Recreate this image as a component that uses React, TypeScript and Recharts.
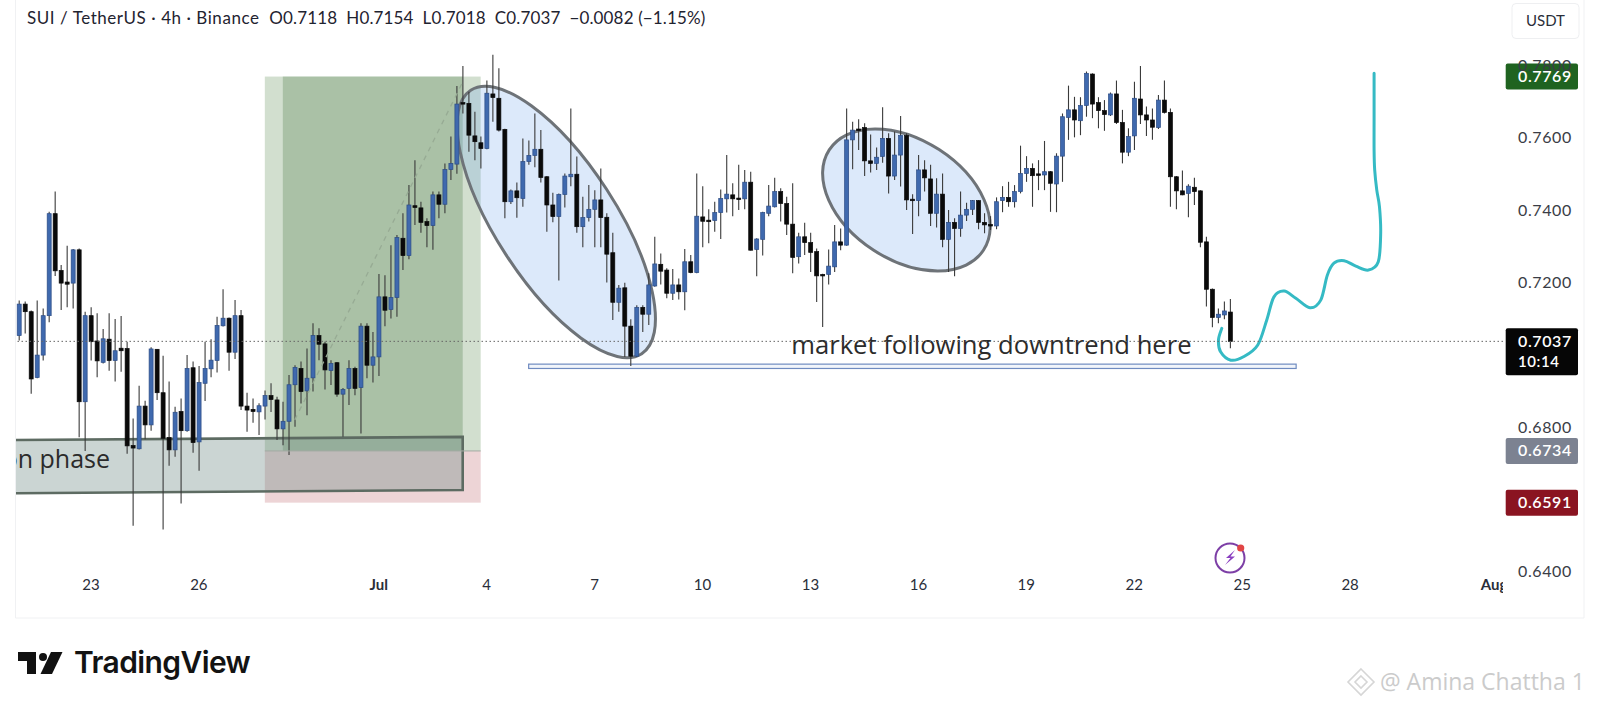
import React from "react";
import { ComposedChart, Bar, XAxis, YAxis, ReferenceArea, ReferenceLine } from "recharts";

// 4h candles
const opens = [
  .7053,.7140,.7119,.6937,.6999,.7108,.7390,.7233,.7201,.7198,.7290,.6870,.7108,.7038,.6979,.7043,.6984,.7018,.7017,.6749,
  .6740,.6858,.6806,.7015,.6895,.6771,.6737,.6843,.6790,.6964,.6759,.6921,.6961,.6984,.7080,.7101,.7007,.7108,.6858,.6849,
  .6842,.6858,.6887,.6875,.6795,.6816,.6917,.6962,.6900,.6936,.7053,.7030,.6956,.6978,.6891,.6907,.6962,.6909,.7079,.6971,
  .6994,.7160,.7125,.7158,.7322,.7274,.7412,.7406,.7368,.7357,.7442,.7416,.7512,.7527,.7697,.7695,.7605,.7586,.7570,.7721,
  .7709,.7623,.7423,.7453,.7432,.7534,.7551,.7568,.7492,.7414,.7382,.7443,.7492,.7499,.7354,.7379,.7402,.7428,.7380,.7282,
  .7145,.7185,.7079,.6996,.7131,.7112,.7190,.7250,.7234,.7170,.7193,.7174,.7257,.7227,.7381,.7372,.7371,.7393,.7431,.7442,
  .7433,.7431,.7477,.7291,.7319,.7391,.7409,.7451,.7418,.7361,.7271,.7326,.7310,.7285,.7222,.7222,.7243,.7312,.7303,.7594,
  .7624,.7628,.7536,.7529,.7548,.7598,.7494,.7552,.7606,.7430,.7426,.7511,.7486,.7391,.7444,.7319,.7366,.7349,.7386,.7402,
  .7426,.7366,.7360,.7356,.7426,.7435,.7423,.7451,.7501,.7515,.7500,.7497,.7506,.7472,.7549,.7656,.7677,.7647,.7689,.7776,
  .7697,.7675,.7663,.7721,.7642,.7560,.7605,.7707,.7663,.7649,.7628,.7704,.7670,.7492,.7453,.7446,.7463,.7453,.7312,.7181,
  .7103,.7110,.7118,
];
const highs = [
  .7150,.7147,.7122,.7150,.7128,.7395,.7451,.7248,.7301,.7292,.7294,.7119,.7131,.7115,.7071,.7115,.7099,.7107,.7036,.6824,
  .6914,.6873,.7021,.7016,.6997,.6926,.6856,.6879,.6999,.6981,.6969,.7036,.7043,.7105,.7181,.7103,.7151,.7124,.6895,.6879,
  .6866,.6901,.6921,.6884,.6870,.6944,.6971,.6981,.7017,.7087,.7073,.7036,.6985,.6980,.6908,.6985,.6967,.7087,.7087,.7063,
  .7223,.7220,.7303,.7331,.7391,.7469,.7538,.7423,.7377,.7451,.7451,.7529,.7603,.7743,.7798,.7727,.7672,.7603,.7758,.7829,
  .7792,.7625,.7457,.7476,.7598,.7592,.7667,.7621,.7494,.7448,.7446,.7501,.7681,.7548,.7437,.7469,.7455,.7515,.7391,.7337,
  .7193,.7199,.7098,.7137,.7137,.7225,.7326,.7280,.7239,.7237,.7211,.7292,.7276,.7501,.7466,.7402,.7423,.7457,.7552,.7474,
  .7525,.7511,.7506,.7322,.7395,.7469,.7489,.7460,.7437,.7474,.7337,.7365,.7337,.7294,.7224,.7291,.7359,.7349,.7681,.7644,
  .7651,.7640,.7609,.7573,.7684,.7612,.7617,.7660,.7612,.7444,.7552,.7538,.7525,.7488,.7501,.7400,.7377,.7451,.7420,.7428,
  .7428,.7391,.7383,.7435,.7466,.7478,.7469,.7578,.7549,.7529,.7538,.7591,.7508,.7557,.7667,.7744,.7713,.7712,.7783,.7778,
  .7712,.7704,.7725,.7758,.7677,.7626,.7755,.7798,.7686,.7681,.7718,.7758,.7681,.7494,.7509,.7471,.7489,.7455,.7326,.7183,
  .7128,.7147,.7154,
];
const lows = [
  .7039,.7059,.6892,.6935,.6984,.7090,.7218,.7124,.7131,.7128,.6772,.6734,.6984,.6938,.6976,.6956,.6926,.6953,.6726,.6527,
  .6738,.6766,.6790,.6875,.6517,.6693,.6718,.6589,.6787,.6729,.6679,.6872,.6938,.6951,.7078,.6956,.6988,.6847,.6787,.6812,
  .6778,.6821,.6842,.6764,.6750,.6723,.6801,.6865,.6833,.6898,.6985,.6904,.6916,.6884,.6773,.6861,.6888,.6782,.6935,.6923,
  .6941,.7079,.7100,.7105,.7234,.7264,.7359,.7337,.7297,.7290,.7377,.7391,.7483,.7500,.7667,.7561,.7538,.7515,.7568,.7644,
  .7617,.7377,.7417,.7379,.7409,.7525,.7518,.7476,.7340,.7366,.7205,.7407,.7466,.7337,.7297,.7368,.7297,.7297,.7200,.7096,
  .7119,.6994,.6969,.6994,.7063,.7082,.7188,.7194,.7156,.7151,.7153,.7123,.7225,.7225,.7297,.7308,.7340,.7320,.7393,.7383,
  .7400,.7402,.7288,.7217,.7274,.7383,.7407,.7368,.7331,.7225,.7252,.7276,.7229,.7146,.7077,.7194,.7229,.7289,.7301,.7513,
  .7566,.7494,.7504,.7511,.7531,.7446,.7483,.7465,.7400,.7334,.7383,.7451,.7356,.7352,.7297,.7229,.7217,.7326,.7370,.7386,
  .7347,.7336,.7345,.7347,.7394,.7409,.7407,.7446,.7478,.7409,.7455,.7455,.7395,.7394,.7478,.7594,.7601,.7607,.7658,.7654,
  .7626,.7619,.7660,.7638,.7529,.7549,.7566,.7638,.7605,.7594,.7624,.7667,.7409,.7402,.7441,.7380,.7414,.7297,.7133,.7076,
  .7087,.7098,.7018,
];
const closes = [
  .7140,.7119,.6933,.6999,.7108,.7390,.7232,.7198,.7195,.7290,.6870,.7108,.7036,.6983,.7044,.6984,.7011,.7011,.6748,.6742,
  .6858,.6806,.7016,.6895,.6769,.6737,.6841,.6790,.6962,.6757,.6923,.6962,.6985,.7081,.7101,.7007,.7108,.6858,.6847,.6843,
  .6859,.6887,.6876,.6795,.6816,.6917,.6965,.6898,.6935,.7053,.7029,.6958,.6976,.6891,.6904,.6962,.6907,.7079,.6971,.6994,
  .7160,.7123,.7158,.7324,.7274,.7414,.7407,.7366,.7357,.7442,.7416,.7512,.7529,.7693,.7693,.7607,.7589,.7570,.7723,.7711,
  .7621,.7423,.7453,.7434,.7534,.7551,.7568,.7490,.7414,.7382,.7443,.7494,.7499,.7354,.7379,.7402,.7428,.7379,.7278,.7145,
  .7184,.7079,.6996,.7131,.7112,.7193,.7251,.7231,.7170,.7193,.7174,.7257,.7227,.7383,.7369,.7368,.7393,.7432,.7444,.7431,
  .7430,.7477,.7289,.7320,.7393,.7411,.7451,.7418,.7361,.7269,.7326,.7310,.7283,.7218,.7218,.7245,.7312,.7303,.7594,.7621,
  .7621,.7536,.7529,.7546,.7598,.7494,.7552,.7606,.7428,.7427,.7511,.7489,.7391,.7444,.7319,.7366,.7349,.7386,.7402,.7426,
  .7366,.7359,.7358,.7423,.7435,.7423,.7451,.7501,.7515,.7495,.7498,.7506,.7474,.7549,.7658,.7677,.7649,.7689,.7778,.7693,
  .7675,.7664,.7721,.7642,.7560,.7603,.7709,.7663,.7649,.7629,.7704,.7670,.7492,.7453,.7442,.7466,.7451,.7311,.7181,.7103,
  .7112,.7121,.7037,
];

const SLOTS = 248; // candles plus the empty space on the right
const rows = Array.from({ length: SLOTS }, (_, i) => ({
  i,
  open: opens[i],
  close: closes[i],
  range: highs[i] === undefined ? undefined : [lows[i], highs[i]],
}));

const tickSlots = [12, 30, 60, 78, 96, 114, 132, 150, 168, 186, 204, 222, 246];
const tickLabels = ["23", "26", "Jul", "4", "7", "10", "13", "16", "19", "22", "25", "28", "Aug"];
const priceTicks = [0.64, 0.68, 0.72, 0.74, 0.76, 0.78];

// position tool and last price
const ENTRY = 0.6734;
const TARGET = 0.7769;
const STOP = 0.6591;
const LAST = 0.7037;

// hand drawn curve, [slot, price]
const curve = [
  [200.6, .7073], [200.05, .7041], [200.4, .7008], [202.1, .6985], [204.3, .6995], [206.6, .7027], [208.1, .7096],
  [209.3, .7160], [211, .7176], [212.95, .7156], [215.3, .7130], [217.1, .7151], [218.2, .7220], [219.3, .7253],
  [221, .7260], [222.95, .7245], [225.05, .7234], [226.7, .7257], [227.1, .7336], [226.9, .7409], [226.45, .7455],
  [226.1, .7511], [226, .7566], [226, .7650], [226, .7778],
];
// drawn ellipses: slot, price of the centre, then radii in px and tilt
const ellipses = [
  { slot: 89.6, price: 0.7367, rx: 157, ry: 60, tilt: 57 },
  { slot: 148, price: 0.7428, rx: 92, ry: 60, tilt: 33 },
];
// accumulation box corners, [slot, price]
const phaseBox = [[-1, .6764], [74, .6773], [74, .6626], [-1, .6617]];

const FONT = "Lato, 'Open Sans', sans-serif";

function Candle(props: any) {
  const { x, y, width, height, payload } = props;
  if (!payload.range || !isFinite(y) || !isFinite(height)) return null;
  const [low, high] = payload.range;
  const k = height / (high - low);
  const up = payload.close >= payload.open;
  const top = y + (high - Math.max(payload.open, payload.close)) * k;
  const h = Math.max(Math.abs(payload.open - payload.close) * k, 1.5);
  const cx = x + width / 2;
  return (
    <g>
      <line x1={cx} x2={cx} y1={y} y2={y + height} stroke="#3a3a3a" strokeWidth={1.1} />
      <rect
        x={x}
        y={top}
        width={width}
        height={h}
        fill={up ? "#3f69ae" : "#0a0a0a"}
        stroke={up ? "#2c4c85" : "#0a0a0a"}
        strokeWidth={0.7}
      />
    </g>
  );
}

// band scale gives the outer edges of the first and last slot; drawings run centre to centre
function CenterRect(props: any) {
  const { x, y, width, height, fill, fillOpacity, stroke, strokeWidth } = props;
  const half = width / (props.slots * 2);
  return (
    <rect
      x={x + half}
      y={y}
      width={width - half * 2}
      height={height}
      fill={fill}
      fillOpacity={fillOpacity}
      stroke={stroke}
      strokeWidth={strokeWidth}
    />
  );
}

function Annotations(props: any) {
  // the area spans slots 0..200 and prices .64...78, so it gives the scales
  const { x, y, width, height } = props;
  const px = (s: number) => x + ((s + 0.5) / 201) * width;
  const py = (p: number) => y + ((0.78 - p) / 0.14) * height;
  const pts = curve.map(([s, p]) => [px(s), py(p)]);
  let d = `M${pts[0][0]},${pts[0][1]}`;
  for (let i = 0; i < pts.length - 1; i++) {
    const a = pts[Math.max(i - 1, 0)], b = pts[i], c = pts[i + 1], e = pts[Math.min(i + 2, pts.length - 1)];
    d += `C${b[0] + (c[0] - a[0]) / 6},${b[1] + (c[1] - a[1]) / 6} ${c[0] - (e[0] - b[0]) / 6},${c[1] - (e[1] - b[1]) / 6} ${c[0]},${c[1]}`;
  }
  const box = phaseBox.map(([s, p]) => `${px(s)},${py(p)}`).join(" ");
  return (
    <g>
      <clipPath id="paneClip">
        <rect x={16} y={0} width={1487} height={577} />
      </clipPath>
      <g clipPath="url(#paneClip)">
        <polygon points={box} fill="rgba(114,141,136,0.37)" stroke="#5d6b62" strokeWidth={2.6} />
        <text x={110} y={py(0.6688)} textAnchor="end" fontFamily="'Open Sans', sans-serif" fontSize={25} fill="#2b2b2b">
          accumulation phase
        </text>
      </g>
      {ellipses.map((e) => (
        <ellipse
          key={e.slot}
          cx={px(e.slot)}
          cy={py(e.price)}
          rx={e.rx}
          ry={e.ry}
          transform={`rotate(${e.tilt} ${px(e.slot)} ${py(e.price)})`}
          fill="rgba(120,170,235,0.26)"
          stroke="#6e7378"
          strokeWidth={3}
        />
      ))}
      <text x={px(128.8)} y={py(0.7002)} fontFamily="'Open Sans', sans-serif" fontSize={25.6} fill="#2b2b2b">
        market following downtrend here
      </text>
      <path d={d} fill="none" stroke="#35bac4" strokeWidth={3} strokeLinecap="round" />
    </g>
  );
}

function PriceTag({ x1, x2, y1, fill, sub, label }: any) {
  const right = Math.max(x1, x2);
  return (
    <g>
      <rect x={right + 2.7} y={y1 - 13} width={72.3} height={sub ? 47 : 26} rx={2} fill={fill} />
      <text x={right + 15} y={y1 + 5.5} fontFamily={FONT} fontSize={16} fontWeight={600} fill="#fff" letterSpacing={0.6}>
        {label}
      </text>
      {sub && (
        <text x={right + 15} y={y1 + 26} fontFamily={FONT} fontSize={15} fontWeight={600} fill="#fff" letterSpacing={0.6}>
          {sub}
        </text>
      )}
    </g>
  );
}

function XTick({ x, y, payload }: any) {
  const n = tickSlots.indexOf(payload.value);
  const month = tickLabels[n] === "Jul" || tickLabels[n] === "Aug";
  return (
    <g>
      <clipPath id={`xc${n}`}>
        <rect x={0} y={570} width={1503} height={50} />
      </clipPath>
      <text
        x={x}
        y={y}
        dy={5}
        textAnchor="middle"
        clipPath={`url(#xc${n})`}
        fontFamily={FONT}
        fontSize={15}
        fontWeight={month ? 700 : 400}
        fill="#2a2e39"
      >
        {tickLabels[n]}
      </text>
    </g>
  );
}

function YTick({ y, payload }: any) {
  return (
    <g>
      <clipPath id={`yc${payload.value}`}>
        <rect x={1503} y={0} width={97} height={577} />
      </clipPath>
      <text
        x={1518}
        y={y}
        dy={5.5}
        clipPath={`url(#yc${payload.value})`}
        fontFamily={FONT}
        fontSize={16}
        letterSpacing={0.6}
        fill="#3a3d46"
      >
        {payload.value.toFixed(4)}
      </text>
    </g>
  );
}

function Chrome() {
  return (
    <svg width={1600} height={707} style={{ position: "absolute", left: 0, top: 0, pointerEvents: "none" }}>
      <path d="M15.5 0V618H1584V0" fill="none" stroke="#f0f1f3" />
      <text x={27} y={24} fontFamily={FONT} fontSize={17} fill="#1f2330" letterSpacing={0.55} style={{ whiteSpace: "pre" }}>
        {"SUI / TetherUS · 4h · Binance  "}
        <tspan letterSpacing={0.15}>{"O0.7118  H0.7154  L0.7018  C0.7037  −0.0082 (−1.15%)"}</tspan>
      </text>
      <rect x={1512} y={3.5} width={67} height={35} rx={4} fill="#fff" stroke="#eeeff1" />
      <text x={1545.5} y={26} textAnchor="middle" fontFamily={FONT} fontSize={15} fill="#2a2e39">
        USDT
      </text>
      {/* bolt icon */}
      <circle cx={1230} cy={558} r={14.5} fill="none" stroke="#7d3fa6" strokeWidth={2} />
      <path d="M1235 550l-9 8h4.5l-5.5 7 10-8.5h-4.5z" fill="#8a3fc0" />
      <circle cx={1240.7} cy={548} r={3.6} fill="#e14545" />
      {/* TradingView logo */}
      <path d="M18 652H36V674H27V661H18Z" fill="#111" />
      <circle cx={43} cy={657} r={4} fill="#111" />
      <path d="M51 652H62.5L52 674H40.5Z" fill="#111" />
      <text x={74} y={673} fontFamily="Inter, sans-serif" fontWeight={600} fontSize={30} letterSpacing={-0.6} fill="#131313">
        TradingView
      </text>
      {/* watermark */}
      <g fill="none" stroke="#d6d6d6" strokeWidth={1.6}>
        <path d="M1361 669l13 13-13 13-13-13z" />
        <path d="M1361 676l6 6-6 6-6-6z" />
      </g>
      <text x={1380} y={690} fontFamily="'Open Sans', sans-serif" fontSize={23} fill="#cbcbcb">
        @ Amina Chattha 1
      </text>
    </svg>
  );
}

export default function App() {
  return (
    <div style={{ position: "absolute", left: 0, top: 0, width: 1600, height: 707, background: "#fff", overflow: "hidden" }}>
      <ComposedChart
        width={1600}
        height={707}
        data={rows}
        margin={{ top: 0, right: 0, bottom: 89, left: 16 }}
        barCategoryGap="20%"
      >
        <XAxis
          dataKey="i"
          type="category"
          ticks={tickSlots}
          interval={0}
          axisLine={false}
          tickLine={false}
          height={41}
          tick={<XTick />}
        />
        <YAxis
          orientation="right"
          type="number"
          domain={[0.63855, 0.79807]}
          allowDataOverflow
          ticks={priceTicks}
          width={97}
          axisLine={false}
          tickLine={false}
          tick={<YTick />}
        />
        <ReferenceArea x1={41} x2={77} y1={ENTRY} y2={TARGET} fill="#a5c0a0" fillOpacity={0.5} shape={<CenterRect slots={37} />} />
        <ReferenceArea x1={44} x2={74} y1={ENTRY} y2={TARGET} fill="#82a47e" fillOpacity={0.5} shape={<CenterRect slots={31} />} />
        <ReferenceArea x1={41} x2={77} y1={STOP} y2={ENTRY} fill="#d9a6aa" fillOpacity={0.48} shape={<CenterRect slots={37} />} />
        <ReferenceLine segment={[{ x: 41, y: ENTRY }, { x: 77, y: ENTRY }]} stroke="#a3aaa3" strokeWidth={1} />
        <ReferenceLine
          segment={[{ x: 46, y: 0.682 }, { x: 74, y: 0.7754 }]}
          stroke="#97ab94"
          strokeWidth={1.3}
          strokeDasharray="5 5"
        />
        <ReferenceLine y={LAST} stroke="#666" strokeWidth={1} strokeDasharray="1.5 2.5" />
        <ReferenceArea
          x1={85}
          x2={213}
          y1={0.6962}
          y2={0.6974}
          fill="#e3ecf8"
          stroke="#6f8bc0"
          strokeWidth={1.2}
          shape={<CenterRect slots={129} />}
        />
        <Bar dataKey="range" isAnimationActive={false} shape={<Candle />} />
        <ReferenceArea x1={0} x2={200} y1={0.64} y2={0.78} shape={<Annotations />} />
        <ReferenceLine y={TARGET} stroke="none" shape={(p: any) => <PriceTag {...p} fill="#1f6320" label={TARGET.toFixed(4)} />} />
        <ReferenceLine y={LAST} stroke="none" shape={(p: any) => <PriceTag {...p} fill="#060606" label={LAST.toFixed(4)} sub="10:14" />} />
        <ReferenceLine y={ENTRY} stroke="none" shape={(p: any) => <PriceTag {...p} fill="#7c8291" label={ENTRY.toFixed(4)} />} />
        <ReferenceLine y={STOP} stroke="none" shape={(p: any) => <PriceTag {...p} fill="#8a1421" label={STOP.toFixed(4)} />} />
      </ComposedChart>
      <Chrome />
    </div>
  );
}
